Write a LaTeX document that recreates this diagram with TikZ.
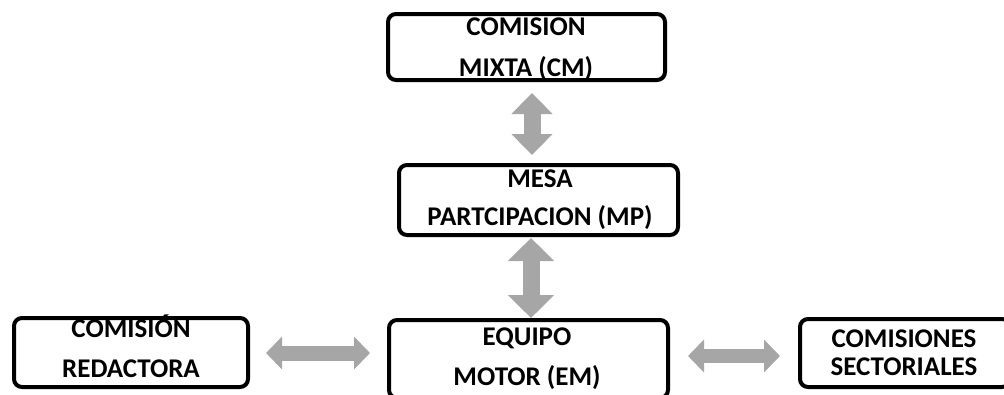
\documentclass[tikz,border=0pt]{standalone}
\usepackage{fontspec}
\setmainfont{Carlito}
\usetikzlibrary{arrows.meta}
\begin{document}
\begin{tikzpicture}[x=1pt,y=-1pt,
  box/.style={draw=black, line width=4pt, rounded corners=8pt, inner sep=0pt, fill=white},
  lbl/.style={anchor=base, align=center, inner sep=0pt, font=\bfseries\fontsize{27}{#1}\selectfont},
  vlink/.style={draw=black!35, line width=17pt,
    {Triangle[length=21pt,width=40pt]}-{Triangle[length=21pt,width=40pt]}},
  hlink/.style={draw=black!35, line width=15pt,
    {Triangle[length=16pt,width=32pt]}-{Triangle[length=16pt,width=32pt]}}]
\useasboundingbox (0,0) rectangle (1004,394);

% boxes
\node[box, minimum width=277pt, minimum height=66pt] (cm) at (526.5,47) {};
\node[box, minimum width=279pt, minimum height=70pt] (mp) at (538.5,200) {};
\node[box, minimum width=279pt, minimum height=78pt] (em) at (528.5,359) {};
\node[box, minimum width=234pt, minimum height=69pt] (cr) at (131,352.5) {};
\node[box, minimum width=210pt, minimum height=68pt] (cs) at (905,353) {};

% box texts (placed by the baseline of their last line)
\node[lbl=41pt] (cmtext) at (526,76) {COMISION\\MIXTA (CM)};
\node[lbl=38pt] (mptext) at (540,225) {MESA\\PARTCIPACION (MP)};
\node[lbl=40pt] (emtext) at (527,385) {EQUIPO\\MOTOR (EM)};
\node[lbl=40pt] (crtext) at (131,377) {COMISIÓN\\REDACTORA};
\node[lbl=28pt] (cstext) at (904,375) {COMISIONES\\SECTORIALES};

% double arrows between boxes
\draw[vlink] ([xshift=5.5pt,yshift=-11pt]cm.south) -- ([xshift=-6.5pt,yshift=8pt]mp.north);
\draw[vlink, {Triangle[length=23pt,width=45pt]}-{Triangle[length=23pt,width=45pt]}]
  ([xshift=-7.5pt,yshift=-1pt]mp.south) -- ([xshift=2.5pt]em.north);
\draw[hlink] ([xshift=16pt,yshift=-0.5pt]cr.east) -- ([xshift=-17pt,yshift=6pt]em.west);
\draw[hlink, line width=14pt] ([xshift=18pt,yshift=3pt]em.east) -- ([xshift=-18pt,yshift=-3pt]cs.west);
\end{tikzpicture}
\end{document}
